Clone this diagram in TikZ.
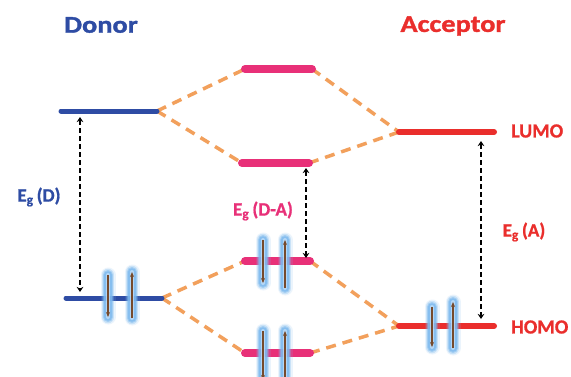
\documentclass[tikz,border=0pt]{standalone}
\usepackage{fontspec}
\setmainfont{Carlito}[BoldFeatures={FakeBold=0.8}]
\newfontfamily\widefont{Carlito}[FakeStretch=1.18, BoldFeatures={FakeBold=1.4}]
\usetikzlibrary{arrows.meta}

\definecolor{donorblue}{RGB}{46,76,164}
\definecolor{dapink}{RGB}{232,48,120}
\definecolor{accred}{RGB}{234,46,44}
\definecolor{linkorange}{RGB}{242,160,92}
\definecolor{spinbrown}{RGB}{118,74,44}
\definecolor{glowblue}{RGB}{125,185,238}
\definecolor{glowpale}{RGB}{200,225,248}

\tikzset{
  x=1pt, y=-1pt,
  title/.style={font=\widefont\bfseries\fontsize{24}{28}\selectfont, inner sep=0pt},
  levlabel/.style={font=\bfseries\fontsize{20}{24}\selectfont, inner sep=0pt, anchor=west},
  gaplabel/.style={font=\bfseries\fontsize{19}{22}\selectfont, inner sep=0pt},
  donorbar/.style={donorblue, line width=5pt, line cap=round},
  pinkbar/.style={dapink, line width=8pt, line cap=round},
  redbar/.style={accred, line width=6pt, line cap=round},
  link/.style={linkorange, line width=3.5pt, dash pattern=on 10pt off 7pt},
  gaparrow/.style={black, line width=1.4pt, dash pattern=on 5pt off 3pt,
    {Stealth[length=5pt,width=6.5pt]}-{Stealth[length=5pt,width=6.5pt]}},
  spinline/.style={spinbrown, line width=1.3pt, -{Stealth[length=5pt,width=4pt]}},
}

% electron pair with soft halo: first arrow #1 -> #2, second #3 -> #4
\newcommand{\spinpair}[4]{%
  \foreach \w/\o in {15/0.15, 12.5/0.3, 10/0.5, 7.5/0.75}{
    \draw[glowblue, line width=\w pt, line cap=round, opacity=\o] (#1) -- (#2);
    \draw[glowblue, line width=\w pt, line cap=round, opacity=\o] (#3) -- (#4);
  }
  \draw[glowpale, line width=4pt, line cap=round, opacity=0.7] (#1) -- (#2);
  \draw[glowpale, line width=4pt, line cap=round, opacity=0.7] (#3) -- (#4);
  \draw[spinline] (#1) -- (#2);
  \draw[spinline] (#3) -- (#4);
}

\begin{document}
\begin{tikzpicture}
\clip (0,0) rectangle (571,376);
\fill[white] (0,0) rectangle (571,376);

% titles
\node[title, text=donorblue] (tdonor) at (101,25) {Donor};
\node[title, text=accred] (tacc) at (453,26) {Acceptor};

% energy level end points
\coordinate (dL1) at (61,111);  \coordinate (dL2) at (157,111);
\coordinate (dH1) at (66,298);  \coordinate (dH2) at (162,298);
\coordinate (m1a) at (245,69);  \coordinate (m1b) at (312,69);
\coordinate (m2a) at (242,163); \coordinate (m2b) at (309,163);
\coordinate (m3a) at (245,261); \coordinate (m3b) at (310,261);
\coordinate (m4a) at (245,353); \coordinate (m4b) at (310,353);
\coordinate (aL1) at (399,132); \coordinate (aL2) at (494,132);
\coordinate (aH1) at (399,326); \coordinate (aH2) at (494,326);

% orbital mixing links
\draw[link] (dL2) -- (m1a);
\draw[link] (dL2) -- (m2a);
\draw[link] (m1b) -- (aL1);
\draw[link] (m2b) -- (aL1);
\draw[link] (dH2) -- (m3a);
\draw[link] (dH2) -- (m4a);
\draw[link] (m3b) -- (aH1);
\draw[link] (m4b) -- (aH1);

% levels
\draw[donorbar] (dL1) -- (dL2);
\draw[donorbar] (dH1) -- (dH2);
\draw[pinkbar] (m1a) -- (m1b);
\draw[pinkbar] (m2a) -- (m2b);
\draw[pinkbar] (m3a) -- (m3b);
\draw[pinkbar] (m4a) -- (m4b);
\draw[redbar] (aL1) -- (aL2);
\draw[redbar] (aH1) -- (aH2);

% band gaps
\coordinate (gD1) at (80,117);  \coordinate (gD2) at (80,292);
\coordinate (gM1) at (306,168); \coordinate (gM2) at (306,258);
\coordinate (gA1) at (481,141); \coordinate (gA2) at (481,319);
\draw[gaparrow] (gD1) -- (gD2);
\draw[gaparrow] (gM1) -- (gM2);
\draw[gaparrow] (gA1) -- (gA2);

\node[gaplabel, text=donorblue] (lD) at (39,197) {E\textsubscript{g}\,(D)};
\node[gaplabel, text=dapink] (lM) at (263,211) {E\textsubscript{g}\,(D-A)};
\node[gaplabel, text=accred] (lA) at (524,232) {E\textsubscript{g}\,(A)};

% level names
\node[levlabel, text=accred] (lumo) at (511,131) {LUMO};
\node[levlabel, text=accred] (homo) at (511,327) {HOMO};

% electrons
\coordinate (s1a) at (108,275); \coordinate (s1b) at (108,317);
\coordinate (s1c) at (132,318); \coordinate (s1d) at (132,272);
\spinpair{s1a}{s1b}{s1c}{s1d}
\coordinate (s2a) at (263,240); \coordinate (s2b) at (263,283);
\coordinate (s2c) at (285,288); \coordinate (s2d) at (285,240);
\spinpair{s2a}{s2b}{s2c}{s2d}
\coordinate (s3a) at (263,331); \coordinate (s3b) at (263,380);
\coordinate (s3c) at (285,382); \coordinate (s3d) at (285,331);
\spinpair{s3a}{s3b}{s3c}{s3d}
\coordinate (s4a) at (432,307); \coordinate (s4b) at (432,347);
\coordinate (s4c) at (453,348); \coordinate (s4d) at (453,302);
\spinpair{s4a}{s4b}{s4c}{s4d}
\end{tikzpicture}
\end{document}
